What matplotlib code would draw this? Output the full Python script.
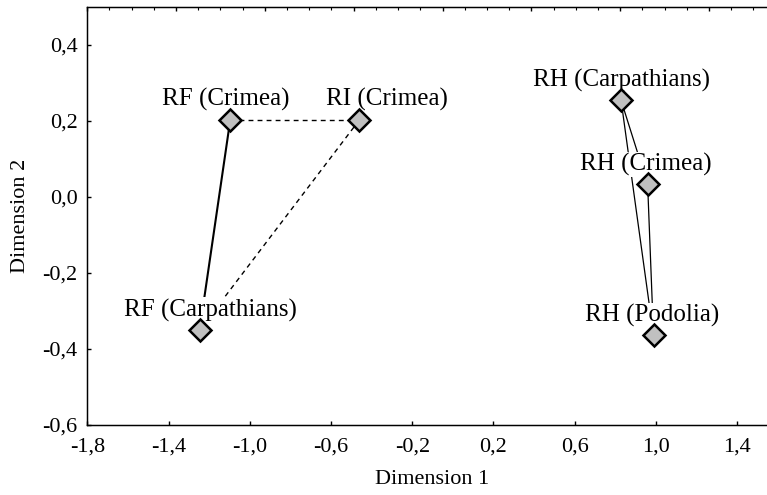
"""Two-dimensional scaling plot of populations (Dimension 1 vs Dimension 2)."""

import numpy as np
import matplotlib
matplotlib.use('Agg')
import matplotlib.pyplot as plt
from matplotlib.ticker import FuncFormatter, MultipleLocator

names = ['RF (Crimea)', 'RI (Crimea)', 'RF (Carpathians)',
         'RH (Carpathians)', 'RH (Crimea)', 'RH (Podolia)']
dim1 = [-1.096, -0.46, -1.247, 0.828, 0.959, 0.988]
dim2 = [0.203, 0.203, -0.350, 0.255, 0.033, -0.364]

# pairs of point indices joined by lines
solid_pairs = [(0, 2)]
dashed_pairs = [(0, 1), (1, 2)]
thin_pairs = [(3, 4), (3, 5), (4, 5)]

# label shift from the point, in points
label_dx = [-3, 20, 7.5, 0, -1, -1]
label_dy = 10


def comma_fmt(x, pos):
    return '{:.1f}'.format(x).replace('.', ',')


def main():
    plt.rcParams['font.family'] = ['Liberation Serif', 'DejaVu Serif']
    plt.rcParams['axes.unicode_minus'] = False

    fig = plt.figure(figsize=(7.67, 4.95), dpi=100)
    ax = fig.add_axes([0.1138, 0.1414, 0.9003, 0.8444])

    for i, j in solid_pairs:
        ax.plot([dim1[i], dim1[j]], [dim2[i], dim2[j]], color='black',
                lw=1.5, zorder=1)
    for i, j in dashed_pairs:
        ax.plot([dim1[i], dim1[j]], [dim2[i], dim2[j]], color='black',
                lw=1.0, dashes=(3.5, 3), zorder=1)
    for i, j in thin_pairs:
        ax.plot([dim1[i], dim1[j]], [dim2[i], dim2[j]], color='black',
                lw=0.9, zorder=1)

    for k, name in enumerate(names):
        ax.annotate(name, (dim1[k], dim2[k]), xytext=(label_dx[k], label_dy),
                    textcoords='offset points', ha='center', va='baseline',
                    fontsize=18, zorder=2,
                    bbox=dict(boxstyle='square,pad=0.05', fc='white',
                              ec='none'))

    ax.plot(dim1, dim2, linestyle='none', marker='D', ms=11,
            mfc='#c0c0c0', mec='black', mew=1.8, zorder=3)

    ax.set_xlim(-1.8, 1.6)
    ax.set_ylim(-0.6, 0.5)
    ax.set_xticks(np.arange(-1.8, 1.41, 0.4))
    ax.set_yticks(np.arange(-0.6, 0.41, 0.2))
    ax.xaxis.set_major_formatter(FuncFormatter(comma_fmt))
    ax.yaxis.set_major_formatter(FuncFormatter(comma_fmt))
    ax.tick_params(direction='in', length=3, width=1, labelsize=16)
    ax.tick_params(axis='x', pad=9)
    ax.tick_params(axis='y', pad=7)
    ax.set_xlabel('Dimension 1', fontsize=16, labelpad=10)
    ax.set_ylabel('Dimension 2', fontsize=16, labelpad=9)
    for sp in ax.spines.values():
        sp.set_linewidth(1.0)

    # small ticks along the top frame
    top = ax.twiny()
    top.set_xlim(0, 690.5 / 22.2)
    top.xaxis.set_major_locator(MultipleLocator(4))
    top.xaxis.set_minor_locator(MultipleLocator(1))
    top.tick_params(which='major', direction='in', length=3, width=1,
                    labeltop=False)
    top.tick_params(which='minor', direction='in', length=2, width=0.8)

    fig.savefig('out.png', dpi=100)


if __name__ == '__main__':
    main()
